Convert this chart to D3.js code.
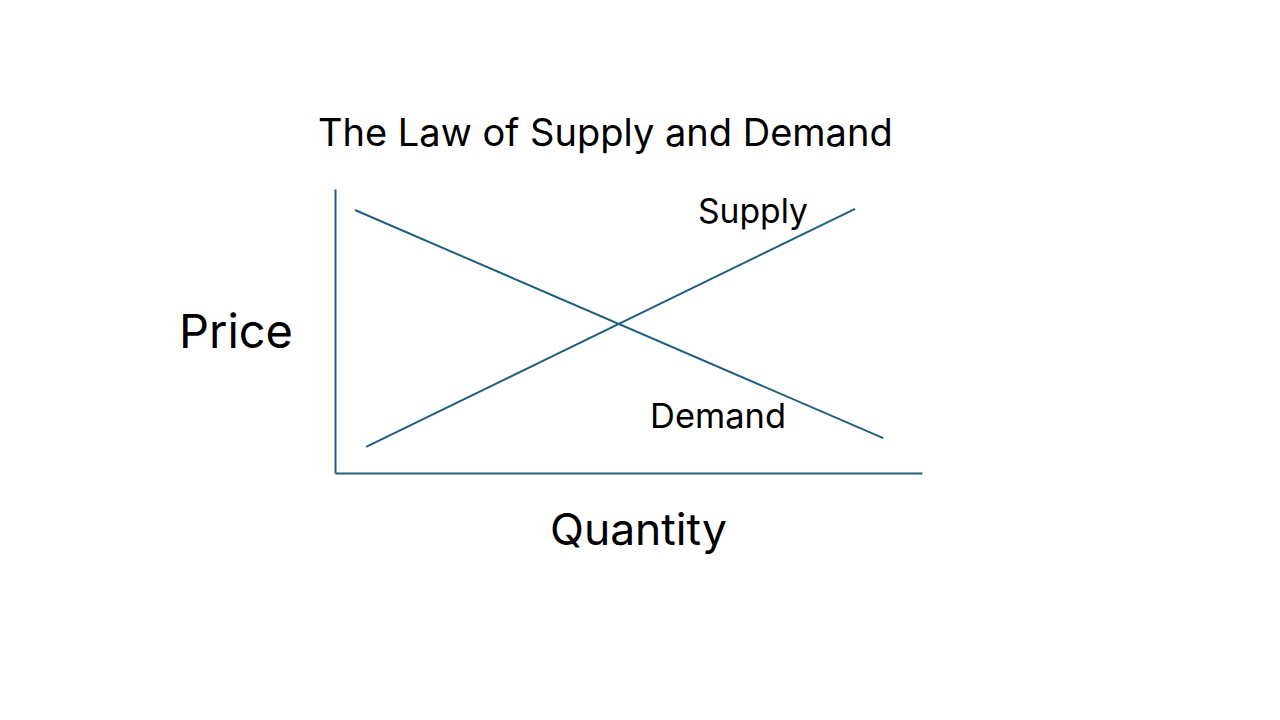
<!DOCTYPE html>
<html>
<head>
<meta charset="utf-8">
<script src="https://cdn.jsdelivr.net/npm/d3@7"></script>
<style>
  html, body { margin: 0; padding: 0; background: #fff; }
  svg { display: block; }
  text { font-family: Inter, "Noto Sans", sans-serif; fill: #000; }
</style>
</head>
<body>
<div class="chart"></div>
<script>
// conceptual chart, values on a 0-100 scale
const demandQuantity = [3.4, 93.4];
const demandPrice = [92.6, 12.3];
const supplyQuantity = [5.3, 88.6];
const supplyPrice = [9.2, 93.0];

const title = "The Law of Supply and Demand";
const xLabel = "Quantity";
const yLabel = "Price";
const supplyLabel = "Supply";
const demandLabel = "Demand";

const w = 1280;
const h = 720;
const lineColor = "#215f80";

let svg = d3.select(".chart").append("svg")
    .attr("width", w)
    .attr("height", h);

let xScale = d3.scaleLinear().domain([0, 100]).range([335, 922]);
let yScale = d3.scaleLinear().domain([0, 100]).range([473, 189]);

// axes with no ticks, only the domain line
let xAxis = d3.axisBottom(xScale).ticks(0).tickSize(0).tickSizeOuter(0);
let yAxis = d3.axisLeft(yScale).ticks(0).tickSize(0).tickSizeOuter(0);

svg.append("g").attr("transform", "translate(0," + yScale(0) + ")").call(xAxis);
svg.append("g").attr("transform", "translate(" + xScale(0) + ",0)").call(yAxis);
svg.selectAll(".domain").attr("stroke", lineColor).attr("stroke-width", 2);

let line = d3.line().x(d => xScale(d[0])).y(d => yScale(d[1]));

svg.append("path")
    .datum(d3.zip(demandQuantity, demandPrice))
    .attr("d", line)
    .attr("fill", "none")
    .attr("stroke", lineColor)
    .attr("stroke-width", 2);

svg.append("path")
    .datum(d3.zip(supplyQuantity, supplyPrice))
    .attr("d", line)
    .attr("fill", "none")
    .attr("stroke", lineColor)
    .attr("stroke-width", 2);

// place a label and size it so it spans the wanted width
let addText = (txt, x, y, size, width) => {
    let t = svg.append("text").text(txt)
        .attr("x", x).attr("y", y)
        .attr("font-size", size);
    let len = t.node().getComputedTextLength();
    t.attr("font-size", size * width / len);
    return t;
};

addText(title, 318, 146, 38, 575);
addText(yLabel, 179, 348, 46, 114);
addText(xLabel, 550, 545, 46, 177);
addText(supplyLabel, 698, 223, 30, 110);
addText(demandLabel, 650, 428, 30, 136);
</script>
</body>
</html>
